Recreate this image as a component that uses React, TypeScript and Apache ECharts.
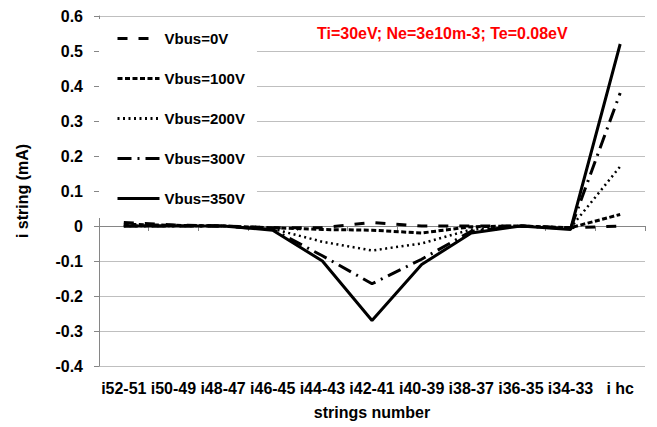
import React, { useEffect, useRef } from "react";
import * as echarts from "echarts";

const categories = ["i52-51", "i50-49", "i48-47", "i46-45", "i44-43", "i42-41", "i40-39", "i38-37", "i36-35", "i34-33", "i hc"];
const seriesNames = ["Vbus=0V", "Vbus=100V", "Vbus=200V", "Vbus=300V", "Vbus=350V"];
const v0 = [0.01, 0.003, 0, -0.005, -0.005, 0.01, 0, 0, 0, -0.005, 0];
const v100 = [0.005, 0.002, 0, -0.005, -0.01, -0.012, -0.02, -0.002, 0, -0.005, 0.033];
const v200 = [0, 0, 0, -0.008, -0.045, -0.07, -0.05, -0.01, 0, -0.005, 0.17];
const v300 = [0, 0, 0, -0.01, -0.085, -0.165, -0.095, -0.015, 0, -0.008, 0.38];
const v350 = [0, 0, 0, -0.012, -0.1, -0.27, -0.11, -0.02, 0, -0.01, 0.52];
const annotation = "Ti=30eV; Ne=3e10m-3; Te=0.08eV";

const FONT = "Liberation Sans";

export default function App() {
  const ref = useRef<HTMLDivElement>(null);
  useEffect(() => {
    if (!ref.current) return;
    const chart = echarts.init(ref.current, null, { renderer: "svg" });
    const styles: any[] = [
      { width: 3, type: [10, 11] },
      { width: 3, type: [5, 2.5] },
      { width: 2.5, type: [2, 3.5] },
      { width: 3, type: [14, 6, 2, 6] },
      { width: 3, type: "solid" },
    ];
    const datas = [v0, v100, v200, v300, v350];
    chart.setOption({
      animation: false,
      backgroundColor: "#ffffff",
      textStyle: { fontFamily: FONT },
      grid: { left: 99, right: 12, top: 16, bottom: 61, containLabel: false },
      title: {
        text: annotation,
        left: 317,
        top: 25,
        textStyle: { color: "#ff0000", fontWeight: "bold", fontSize: 16, fontFamily: FONT },
        padding: 0,
      },
      legend: {
        orient: "vertical",
        left: 99,
        top: 19,
        padding: [12, 12, 12, 17],
        backgroundColor: "#ffffff",
        itemWidth: 42,
        itemHeight: 14,
        itemGap: 25,
        itemStyle: { opacity: 0 },
        lineStyle: { width: 3 },
        textStyle: { color: "#000", fontWeight: "bold", fontSize: 15, fontFamily: FONT },
        data: seriesNames,
      },
      xAxis: {
        type: "category",
        data: categories,
        boundaryGap: true,
        name: "strings number",
        nameLocation: "middle",
        nameGap: 38,
        nameTextStyle: { color: "#000", fontWeight: "bold", fontSize: 16, fontFamily: FONT },
        axisLine: { lineStyle: { color: "#868686", width: 1 } },
        axisTick: { show: true, interval: 0, length: 5, lineStyle: { color: "#868686" } },
        axisLabel: { interval: 0, margin: 14, color: "#000", fontWeight: "bold", fontSize: 16, fontFamily: FONT },
        splitLine: { show: false },
      },
      yAxis: {
        type: "value",
        min: -0.4,
        max: 0.6,
        interval: 0.1,
        name: "i string (mA)",
        nameLocation: "middle",
        nameGap: 69,
        nameTextStyle: { color: "#000", fontWeight: "bold", fontSize: 16, fontFamily: FONT },
        axisLine: { show: true, lineStyle: { color: "#868686", width: 1 } },
        axisTick: { show: true, length: 5, lineStyle: { color: "#868686" } },
        axisLabel: {
          margin: 16,
          color: "#000",
          fontWeight: "bold",
          fontSize: 16,
          fontFamily: FONT,
          formatter: (v: number) => String(Math.round(v * 10) / 10),
        },
        splitLine: { show: true, lineStyle: { color: "#bfbfbf", width: 1 } },
      },
      series: seriesNames.map((name, i) => ({
        name,
        type: "line",
        data: datas[i],
        symbol: "none",
        color: "#000000",
        lineStyle: { color: "#000000", width: styles[i].width, type: styles[i].type, cap: "butt" },
        z: 2 + i,
      })),
    });
    return () => chart.dispose();
  }, []);
  return <div ref={ref} style={{ position: "fixed", left: 0, top: 0, width: 657, height: 427 }} />;
}
